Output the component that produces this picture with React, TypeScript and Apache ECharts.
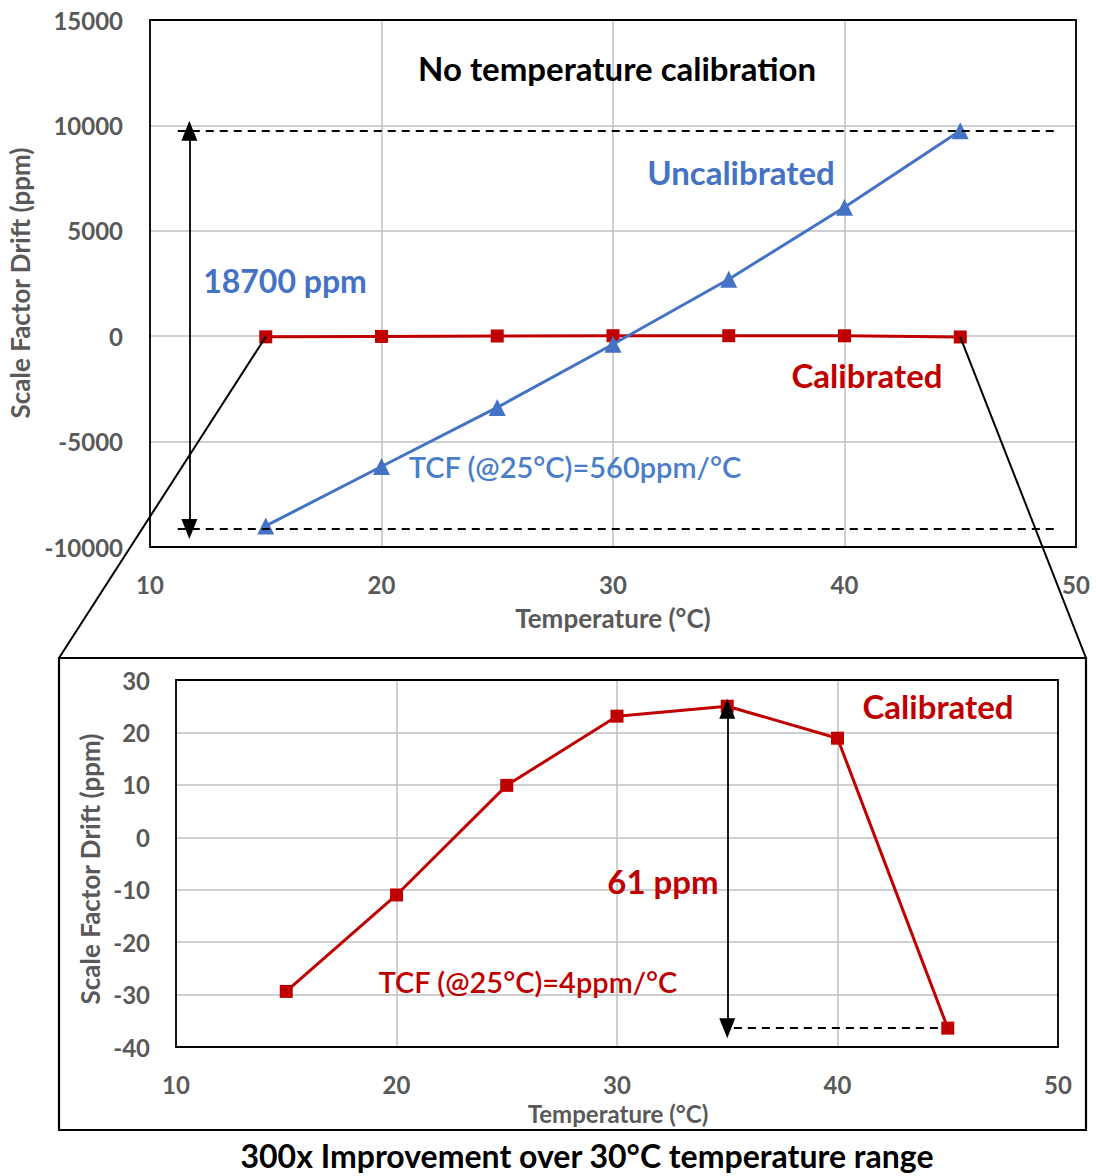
import React, { useEffect, useRef } from "react";
import * as echarts from "echarts";

const temps = [15, 20, 25, 30, 35, 40, 45];
const uncalibrated = [-9000, -6180, -3380, -380, 2700, 6120, 9750];
const calibrated = [-29.4, -11, 9.9, 23.1, 25, 18.9, -36.4];
const xTicks = [10, 20, 30, 40, 50];
const topYRange = [-10000, 15000, 5000];
const bottomYRange = [-40, 30, 10];

const FONT = "Lato, 'Open Sans', sans-serif";
const GRAY = "#595959";
const BLUE = "#4472C4";
const RED = "#C00000";

export default function App() {
  const ref = useRef<HTMLDivElement>(null);
  useEffect(() => {
    if (!ref.current) return;
    document.body.style.margin = "0";
    const chart = echarts.init(ref.current, null, { renderer: "svg" });
    const axisLabel = {
      color: GRAY, fontSize: 24, fontWeight: "bold", fontFamily: FONT, margin: 25,
      formatter: (v: number) => String(v),
    };
    const splitLine = { show: true, lineStyle: { color: "#BFBFBF", width: 1.5 } };
    const topMax = Math.max(...uncalibrated);
    const topMin = Math.min(...uncalibrated);
    const calMax = Math.max(...calibrated);
    const calMin = Math.min(...calibrated);
    const calMaxX = temps[calibrated.indexOf(calMax)];
    const calMinX = temps[calibrated.indexOf(calMin)];
    const grids = [
      { left: 150, top: 20, right: 20, bottom: 629 },
      { left: 176, top: 680, right: 38, bottom: 129 },
    ];
    const option: any = {
      animation: false,
      grid: grids.map((g) => ({ ...g, show: false })),
      xAxis: [0, 1].map((g) => ({
        type: "value",
        gridIndex: g,
        min: xTicks[0],
        max: xTicks[xTicks.length - 1],
        interval: 10,
        axisLine: { show: false },
        axisTick: { show: false },
        axisLabel,
        splitLine,
      })),
      yAxis: [
        {
          type: "value", gridIndex: 0, min: topYRange[0], max: topYRange[1], interval: topYRange[2],
          axisLine: { show: false }, axisTick: { show: false }, axisLabel: { ...axisLabel, margin: 27 }, splitLine,
        },
        {
          type: "value", gridIndex: 1, min: bottomYRange[0], max: bottomYRange[1], interval: bottomYRange[2],
          axisLine: { show: false }, axisTick: { show: false }, axisLabel: { ...axisLabel, margin: 26 }, splitLine,
        },
      ],
      series: [
        {
          type: "line", xAxisIndex: 0, yAxisIndex: 0, z: 3,
          data: temps.map((t, i) => [t, calibrated[i]]),
          symbol: "rect", symbolSize: 13,
          lineStyle: { color: RED, width: 3 }, itemStyle: { color: RED },
        },
        {
          type: "line", xAxisIndex: 0, yAxisIndex: 0, z: 4,
          data: temps.map((t, i) => [t, uncalibrated[i]]),
          symbol: "triangle", symbolSize: 17,
          lineStyle: { color: BLUE, width: 3 }, itemStyle: { color: BLUE },
          markLine: {
            silent: true, symbol: "none", label: { show: false },
            lineStyle: { color: "#000", type: [8, 6], width: 2 },
            data: [
              [{ coord: [11.2, topMax] }, { coord: [49.1, topMax] }],
              [{ coord: [11.2, topMin - 150] }, { coord: [49.1, topMin - 150] }],
            ],
          },
        },
        {
          type: "line", xAxisIndex: 0, yAxisIndex: 0, data: [], silent: true,
          markLine: {
            silent: true, symbol: ["triangle", "triangle"], symbolSize: [16, 20], label: { show: false },
            lineStyle: { color: "#000", type: "solid", width: 1.8 },
            data: [[{ coord: [11.7, topMax] }, { coord: [11.7, topMin - 150] }]],
          },
        },
        {
          type: "line", xAxisIndex: 1, yAxisIndex: 1, z: 3,
          data: temps.map((t, i) => [t, calibrated[i]]),
          symbol: "rect", symbolSize: 13,
          lineStyle: { color: RED, width: 3 }, itemStyle: { color: RED },
          markLine: {
            silent: true, symbol: "none", label: { show: false },
            lineStyle: { color: "#000", type: [8, 6], width: 2 },
            data: [[{ coord: [calMaxX + 0.3, calMin] }, { coord: [calMinX - 0.3, calMin] }]],
          },
        },
        {
          type: "line", xAxisIndex: 1, yAxisIndex: 1, data: [], silent: true,
          markLine: {
            silent: true, symbol: ["triangle", "triangle"], symbolSize: [16, 20], label: { show: false },
            lineStyle: { color: "#000", type: "solid", width: 1.8 },
            data: [[{ coord: [calMaxX, calMax - 0.5] }, { coord: [calMaxX, calMin] }]],
          },
        },
      ],
    };
    chart.setOption(option);

    const pL = chart.convertToPixel({ gridIndex: 0 }, [temps[0], calibrated[0]]) as number[];
    const pR = chart.convertToPixel({ gridIndex: 0 }, [temps[temps.length - 1], calibrated[calibrated.length - 1]]) as number[];
    const frame = { x: 59, y: 658, w: 1027, h: 472 };
    const W = 1096, H = 1176;
    const txt = (text: string, x: number, y: number, color: string, size: number, weight: any = "bold", extra: any = {}) => ({
      type: "text", x, y, z: 100, ...extra,
      style: { text, fill: color, fontSize: size, fontWeight: weight, fontFamily: FONT, align: "center", verticalAlign: "middle" },
    });
    const box = (g: any) => ({
      type: "rect", z: 40,
      shape: { x: g.left, y: g.top, width: W - g.left - g.right, height: H - g.top - g.bottom },
      style: { fill: "none", stroke: "#000", lineWidth: 1.8 },
    });
    chart.setOption({
      graphic: [
        box(grids[0]),
        box(grids[1]),
        { type: "rect", z: 50, shape: { x: frame.x, y: frame.y, width: frame.w, height: frame.h }, style: { fill: "none", stroke: "#000", lineWidth: 2.2 } },
        { type: "line", z: 50, shape: { x1: pL[0], y1: pL[1], x2: frame.x, y2: frame.y }, style: { stroke: "#000", lineWidth: 2 } },
        { type: "line", z: 50, shape: { x1: pR[0], y1: pR[1], x2: frame.x + frame.w, y2: frame.y }, style: { stroke: "#000", lineWidth: 2 } },
        txt("No temperature calibration", 617, 68, "#000", 33),
        txt("Uncalibrated", 741, 172, BLUE, 33),
        txt("18700 ppm", 285, 280, BLUE, 32),
        txt("Calibrated", 867, 375, RED, 33),
        txt("TCF (@25°C)=560ppm/°C", 575, 466, "#4A7EC8", 29, 600),
        txt("Scale Factor Drift (ppm)", 20, 283, GRAY, 26, "bold", { rotation: Math.PI / 2 }),
        txt("Temperature (°C)", 613, 618, GRAY, 26),
        txt("Calibrated", 938, 706, RED, 33),
        txt("61 ppm", 663, 881, RED, 33),
        txt("TCF (@25°C)=4ppm/°C", 528, 981, RED, 29, 600),
        txt("Scale Factor Drift (ppm)", 90, 869, GRAY, 26, "bold", { rotation: Math.PI / 2 }),
        txt("Temperature (°C)", 618, 1113, GRAY, 24),
        txt("300x Improvement over 30°C temperature range", 587, 1155, "#000", 32),
      ],
    });
    return () => chart.dispose();
  }, []);
  return <div ref={ref} style={{ position: "absolute", left: 0, top: 0, width: 1096, height: 1176 }} />;
}
